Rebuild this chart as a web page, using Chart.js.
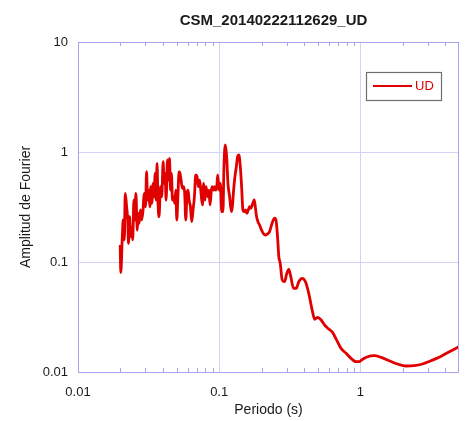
<!DOCTYPE html>
<html><head><meta charset="utf-8">
<script src="https://cdn.jsdelivr.net/npm/chart.js@4.4.1/dist/chart.umd.min.js"></script>
<style>html,body{margin:0;padding:0;background:#fff}#wrap{width:466px;height:421px}</style>
</head><body><div id="wrap"><canvas id="c" width="466" height="421"></canvas></div>
<script>
const chartTitle = 'CSM_20140222112629_UD';
const seriesName = 'UD';
const xAxisTitle = 'Periodo (s)';
const yAxisTitle = 'Amplitud de Fourier';
const xTickValues = [0.01, 0.1, 1];
const xTickLabels = ['0.01', '0.1', '1'];
const yTickValues = [0.01, 0.1, 1, 10];
const yTickLabels = ['0.01', '0.1', '1', '10'];
const periods = [0.0199,0.0201,0.0206,0.0209,0.0213,0.0216,0.0221,0.0225,0.0228,0.0232,
0.0236,0.0240,0.0244,0.0249,0.0253,0.0257,0.0263,0.0267,0.0271,0.0277,
0.0283,0.0289,0.0294,0.0301,0.0306,0.0311,0.0316,0.0323,0.0328,0.0333,
0.0341,0.0346,0.0352,0.0358,0.0363,0.0369,0.0375,0.0384,0.0392,0.0401,
0.0407,0.0414,0.0421,0.0430,0.0438,0.0445,0.0452,0.0459,0.0467,0.0477,
0.0485,0.0493,0.0501,0.0509,0.0520,0.0528,0.0537,0.0549,0.0561,0.0570,
0.0580,0.0592,0.0602,0.0612,0.0626,0.0639,0.0653,0.0668,0.0682,0.0697,
0.0713,0.0728,0.0744,0.0761,0.0777,0.0794,0.0807,0.0820,0.0833,0.0847,
0.0861,0.0881,0.0895,0.0915,0.0930,0.0945,0.0960,0.0976,0.0997,0.1020,
0.1042,0.1064,0.1081,0.1106,0.1130,0.1154,0.1186,0.1220,0.1240,0.1266,
0.1293,0.1323,0.1351,0.1380,0.1412,0.1442,0.1473,0.1507,0.1539,0.1572,
0.1608,0.1643,0.1678,0.1716,0.1745,0.1773,0.1803,0.1832,0.1881,0.1933,
0.1997,0.2063,0.2131,0.2202,0.2275,0.2350,0.2428,0.2480,0.2537,0.2591,
0.2646,0.2707,0.2797,0.2904,0.3015,0.3114,0.3217,0.3362,0.3513,0.3664,
0.3873,0.4086,0.4312,0.4557,0.4753,0.4991,0.5276,0.5567,0.5874,0.6371,
0.6801,0.7304,0.7925,0.8599,0.9325,0.9838,1.038,1.126,1.256,1.401,
1.603,1.835,2.101,2.408,2.756,3.159,3.617,4.140,5.0];
const amplitudes = [0.143,0.080,0.170,0.241,0.159,0.421,0.318,0.241,0.148,0.258,
0.170,0.209,0.159,0.366,0.241,0.421,0.195,0.277,0.225,0.297,
0.241,0.297,0.421,0.318,0.662,0.366,0.451,0.318,0.484,0.342,
0.519,0.392,0.640,0.366,0.789,0.342,0.258,0.484,0.392,0.816,
0.519,0.640,0.366,0.846,0.556,0.876,0.451,0.640,0.366,0.392,
0.342,0.451,0.241,0.366,0.662,0.640,0.556,0.468,0.484,0.421,
0.241,0.421,0.451,0.366,0.318,0.233,0.297,0.392,0.618,0.596,
0.484,0.556,0.421,0.330,0.519,0.366,0.484,0.421,0.392,0.451,
0.330,0.451,0.484,0.451,0.484,0.451,0.468,0.618,0.451,0.519,
0.287,0.287,0.735,1.158,0.906,0.519,0.392,0.287,0.318,0.451,
0.596,0.735,0.906,0.939,0.735,0.484,0.297,0.287,0.297,0.277,
0.297,0.318,0.308,0.330,0.353,0.366,0.318,0.268,0.233,0.217,
0.195,0.180,0.176,0.180,0.189,0.217,0.244,0.250,0.233,0.170,
0.112,0.0973,0.0686,0.0662,0.0789,0.0858,0.0735,0.0577,0.0577,0.0662,
0.0711,0.0662,0.0519,0.0366,0.0301,0.0314,0.0297,0.0268,0.0250,0.0228,
0.0195,0.0164,0.0148,0.0133,0.0124,0.0124,0.01305,0.01377,0.01407,0.0136,
0.01266,0.01182,0.01134,0.01142,0.01182,0.01266,0.0136,0.01497,0.0170];

const FONT = '"Liberation Sans", Arial, sans-serif';
const lineColor = '#e00000';
const frameColor = '#a4a4ec';
const gridColor = '#d2d2f6';
const textColor = '#1a1a1a';

const points = periods.map((p, i) => ({x: p, y: amplitudes[i]}));

const decor = {
  id: 'decor',
  afterDraw(chart) {
    const {ctx, chartArea: a, scales: {x}} = chart;
    ctx.save();
    ctx.strokeStyle = frameColor;
    ctx.lineWidth = 1;
    ctx.beginPath();
    for (let e = -2; e <= 0; e++) {
      for (let m = 2; m <= 9; m++) {
        const v = m * Math.pow(10, e);
        if (v >= x.max) continue;
        const px = Math.round(x.getPixelForValue(v)) + 0.5;
        ctx.moveTo(px, a.bottom); ctx.lineTo(px, a.bottom - 4);
        ctx.moveTo(px, a.top); ctx.lineTo(px, a.top + 4);
      }
    }
    ctx.stroke();
    ctx.strokeRect(Math.round(a.left) + 0.5, Math.round(a.top) + 0.5,
                   Math.round(a.right - a.left) - 1, Math.round(a.bottom - a.top));
    // title
    ctx.fillStyle = textColor;
    ctx.font = 'bold 15px ' + FONT;
    ctx.textAlign = 'center';
    ctx.textBaseline = 'alphabetic';
    ctx.fillText(chartTitle, (a.left + a.right) / 2 + 5, 25);
    // legend
    const ds = chart.data.datasets[0];
    const lx = Math.round(a.right) - 93, ly = Math.round(a.top) + 30, w = 75, h = 28;
    ctx.fillStyle = '#fff';
    ctx.fillRect(lx, ly, w, h);
    ctx.strokeStyle = '#6e6e6e';
    ctx.lineWidth = 1.2;
    ctx.strokeRect(lx + 0.5, ly + 0.5, w, h);
    ctx.strokeStyle = ds.borderColor;
    ctx.lineWidth = 2.2;
    ctx.beginPath(); ctx.moveTo(lx + 7, ly + 14); ctx.lineTo(lx + 46, ly + 14); ctx.stroke();
    ctx.fillStyle = ds.borderColor;
    ctx.font = '13px ' + FONT;
    ctx.textAlign = 'left';
    ctx.textBaseline = 'middle';
    ctx.fillText(ds.label, lx + 49, ly + 14.5);
    ctx.restore();
  }
};

new Chart(document.getElementById('c'), {
  type: 'line',
  data: {
    datasets: [{
      label: seriesName,
      data: points,
      borderColor: lineColor,
      backgroundColor: lineColor,
      borderWidth: 2.8,
      pointRadius: 0,
      cubicInterpolationMode: 'monotone',
      fill: false
    }]
  },
  options: {
    responsive: false,
    devicePixelRatio: 1,
    animation: false,
    layout: {padding: {left: 0, right: 7, top: 42, bottom: 0}},
    plugins: {legend: {display: false}, title: {display: false}, tooltip: {enabled: false}},
    scales: {
      x: {
        type: 'logarithmic',
        min: 0.01, max: 5,
        afterBuildTicks: (s) => { s.ticks = xTickValues.map(v => ({value: v})); },
        afterFit: (s) => { s.height = 49; },
        grid: {color: gridColor, drawTicks: false, lineWidth: 1},
        border: {display: false},
        ticks: {
          autoSkip: false, maxRotation: 0, padding: 13, color: textColor,
          font: {family: FONT, size: 13},
          callback: (v) => { const i = xTickValues.findIndex(t => Math.abs(t - v) < 1e-9); return i >= 0 ? xTickLabels[i] : ''; }
        },
        title: {display: true, text: xAxisTitle, color: textColor, font: {family: FONT, size: 14}, padding: {top: 0, bottom: 2}}
      },
      y: {
        type: 'logarithmic',
        min: 0.01, max: 10,
        afterBuildTicks: (s) => { s.ticks = yTickValues.map(v => ({value: v})); },
        afterFit: (s) => { s.width = 78; },
        grid: {color: gridColor, drawTicks: false, lineWidth: 1},
        border: {display: false},
        ticks: {
          autoSkip: false, padding: 10, color: textColor,
          font: {family: FONT, size: 13},
          callback: (v) => { const i = yTickValues.findIndex(t => Math.abs(t - v) < 1e-9); return i >= 0 ? yTickLabels[i] : ''; }
        },
        title: {display: true, text: yAxisTitle, color: textColor, font: {family: FONT, size: 14}, padding: {top: 18, bottom: 0}}
      }
    }
  },
  plugins: [decor]
});
</script>
</body></html>
